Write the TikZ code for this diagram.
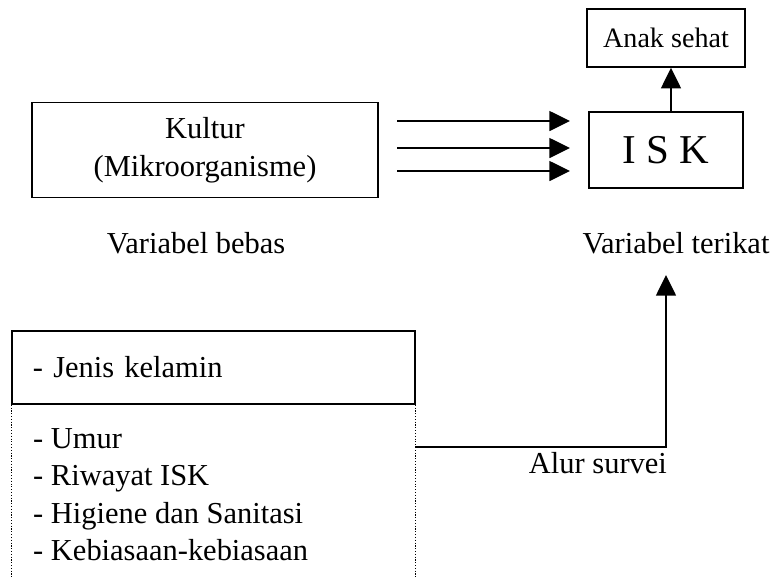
\documentclass[tikz,border=0pt]{standalone}
\usepackage{fontspec}
\setmainfont{Liberation Serif}
\usetikzlibrary{arrows.meta}

\begin{document}
\begin{tikzpicture}[x=0.03cm, y=-0.03cm,
    font=\fontsize{26}{32}\selectfont,
    kotak/.style={draw, line width=1.3pt, inner sep=0pt, align=center},
    panah/.style={line width=1.3pt, -{Triangle[length=0.62cm, width=0.6cm]}},
    titik/.style={line width=1pt, dash pattern=on 1pt off 1.4pt}]
  \useasboundingbox (0,0) rectangle (773,577);

  % Variabel bebas
  \node[kotak, minimum width=10.38cm, minimum height=2.85cm] (kultur) at (205,150) {Kultur\\(Mikroorganisme)};
  \node[anchor=base] (bebas) at (196,253) {Variabel bebas};

  % Variabel terikat
  \node[kotak, minimum width=4.62cm, minimum height=2.28cm, font=\fontsize{35}{40}\selectfont] (isk) at (666,150) {I S K};
  \node[kotak, minimum width=4.74cm, minimum height=1.74cm, font=\fontsize{24}{30}\selectfont] (anak) at (666,38) {Anak sehat};
  \node[anchor=base] (terikat) at (676,253) {Variabel terikat};

  % Arrows kultur -> ISK
  \foreach \i/\y in {1/121, 2/148, 3/171} {
    \coordinate (a\i) at (397,\y);
    \coordinate (b\i) at (570,\y);
    \draw[panah] (a\i) -- (b\i);
  }
  \draw[panah] ([xshift=0.15cm]isk.north) -- ([xshift=0.15cm]anak.south);

  % Faktor lain
  \node[kotak, minimum width=12.09cm, minimum height=2.19cm, text width=10.83cm, align=left] (jenis) at (213.5,367.5) {- Jenis kelamin};
  \coordinate (bawah) at (0,580);
  \draw[titik] (jenis.south west) -- (jenis.south west |- bawah);
  \draw[titik] (jenis.south east) -- (jenis.south east |- bawah);
  \node[anchor=north west, align=left, inner sep=0pt] (faktor) at (33,428) {- Umur\\- Riwayat ISK\\- Higiene dan Sanitasi\\- Kebiasaan-kebiasaan};

  % Alur survei
  \coordinate (keluar) at (415,447);
  \coordinate (masuk) at (666,275);
  \draw[panah] (keluar) -| (masuk);
  \node[anchor=base east] (alur) at (671,473) {Alur survei};
\end{tikzpicture}
\end{document}
